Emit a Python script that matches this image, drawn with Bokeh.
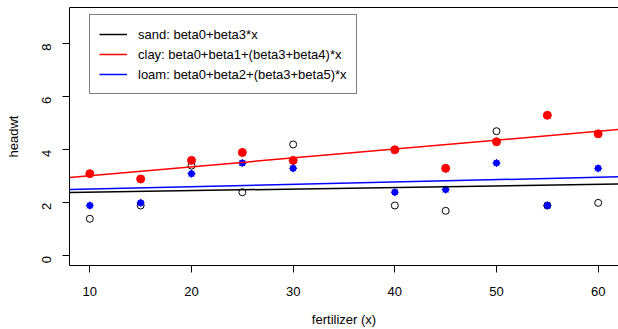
import numpy as np
from bokeh.plotting import figure
from bokeh.models import Range1d, FixedTicker, LinearAxis, Legend, LegendItem
from bokeh.embed import file_html
from bokeh.resources import INLINE

# ---- data ----
fertilizer = [10, 15, 20, 25, 30, 40, 45, 50, 55, 60]
sand = [1.4, 1.9, 3.4, 2.4, 4.2, 1.9, 1.7, 4.7, 1.9, 2.0]
clay = [3.1, 2.9, 3.6, 3.9, 3.6, 4.0, 3.3, 4.3, 5.3, 4.6]
loam = [1.9, 2.0, 3.1, 3.5, 3.3, 2.4, 2.5, 3.5, 1.9, 3.3]
y_lim = [0, 9]
x_ticks = [10, 20, 30, 40, 50, 60]
y_ticks = [0, 2, 4, 6, 8]
legend_labels = ["sand: beta0+beta3*x",
                 "clay: beta0+beta1+(beta3+beta4)*x",
                 "loam: beta0+beta2+(beta3+beta5)*x"]

FONT = "Liberation Sans"
FS = "13px"

# R-style 4% range expansion
xmin, xmax = min(fertilizer), max(fertilizer)
dx = (xmax - xmin) * 0.04
dy = (y_lim[1] - y_lim[0]) * 0.04
x0, x1 = xmin - dx, xmax + dx
y0, y1 = y_lim[0] - dy, y_lim[1] + dy

p = figure(width=618, height=329,
           x_range=Range1d(x0, x1), y_range=Range1d(y0, y1),
           output_backend="svg", toolbar_location=None,
           min_border_top=7, min_border_right=0,
           min_border_left=69, min_border_bottom=64,
           x_axis_label="fertilizer (x)", y_axis_label="headwt")
p.outline_line_color = None
p.grid.visible = False
p.background_fill_color = "white"
p.border_fill_color = "white"

for ax in p.axis:
    ax.axis_line_color = "black"
    ax.major_tick_line_color = "black"
    ax.minor_tick_line_color = None
    ax.major_tick_out = 7
    ax.major_tick_in = 0
    ax.major_label_text_font = FONT
    ax.major_label_text_font_size = FS
    ax.major_label_text_color = "black"
    ax.axis_label_text_font = FONT
    ax.axis_label_text_font_size = FS
    ax.axis_label_text_font_style = "normal"
    ax.axis_label_text_color = "black"

p.xaxis.ticker = FixedTicker(ticks=x_ticks)
p.yaxis.ticker = FixedTicker(ticks=y_ticks)
p.yaxis.major_label_orientation = np.pi / 2
p.xaxis.major_label_standoff = 14
p.yaxis.major_label_standoff = 16
p.xaxis.axis_label_standoff = 13
p.yaxis.axis_label_standoff = 14

top_axis = LinearAxis(ticker=FixedTicker(ticks=[]), major_tick_out=0, major_tick_in=0,
                      minor_tick_out=0, minor_tick_in=0, major_label_standoff=0,
                      major_label_text_font_size="0px", axis_line_color="black")
p.add_layout(top_axis, "above")

# ---- points ----
p.scatter(fertilizer, sand, marker="circle", size=7, fill_color=None,
          line_color="black", line_width=1)
p.scatter(fertilizer, clay, marker="circle", size=8, fill_color="red",
          line_color="red", line_width=1)
p.scatter(fertilizer, loam, marker="circle", size=6, fill_color="blue",
          line_color="blue", line_width=1)
p.scatter(fertilizer, loam, marker="asterisk", size=8, line_color="blue",
          line_width=1)

# ---- fitted lines (least squares per soil) ----
xl = np.array([x0, x1])
renderers = []
for ys, col in [(sand, "black"), (clay, "red"), (loam, "blue")]:
    b, a = np.polyfit(fertilizer, ys, 1)
    r = p.line(xl, a + b * xl, line_color=col, line_width=1.5)
    renderers.append(r)

legend = Legend(items=[LegendItem(label=l, renderers=[r]) for l, r in zip(legend_labels, renderers)],
                location=(20, 171), orientation="vertical",
                padding=9, spacing=0, margin=0,
                glyph_width=28, glyph_height=20, label_height=20,
                label_standoff=11,
                label_text_font=FONT, label_text_font_size=FS,
                label_text_color="black",
                border_line_color="black", border_line_width=1,
                background_fill_color="white", background_fill_alpha=1.0)
p.add_layout(legend, "center")

open("out.html", "w").write(file_html(p, INLINE))
